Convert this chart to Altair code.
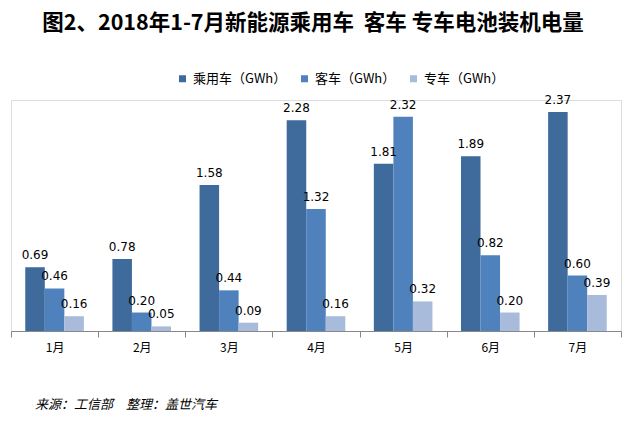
import altair as alt
import pandas as pd

months = ["1月", "2月", "3月", "4月", "5月", "6月", "7月"]
series = ["乘用车（GWh）", "客车（GWh）", "专车（GWh）"]
passenger = [0.69, 0.78, 1.58, 2.28, 1.81, 1.89, 2.37]
bus = [0.46, 0.20, 0.44, 1.32, 2.32, 0.82, 0.60]
special = [0.16, 0.05, 0.09, 0.16, 0.32, 0.20, 0.39]
colors = ["#3E6A9C", "#4F81BD", "#A9BBDA"]

rows = []
for vals, s in zip([passenger, bus, special], series):
    for m, v in zip(months, vals):
        rows.append({"month": m, "series": s, "value": v})
df = pd.DataFrame(rows)

FONT = "Noto Sans CJK SC"

x = alt.X("month:N", sort=months, title=None,
          scale=alt.Scale(paddingInner=0, paddingOuter=0),
          axis=alt.Axis(labelAngle=0, tickBand="extent", tickSize=6, tickColor="#888888",
                        domainColor="#888888", labelFontSize=12, labelColor="#000000",
                        labelFont=FONT, labelPadding=5, grid=False))
xo = alt.XOffset("series:N", sort=series,
                 scale=alt.Scale(paddingInner=0, paddingOuter=0.73))
y = alt.Y("value:Q", scale=alt.Scale(domain=[0, 2.5]), axis=None)
color = alt.Color("series:N", sort=series,
                  scale=alt.Scale(domain=series, range=colors),
                  legend=alt.Legend(title=None, orient="none", legendX=165, legendY=-28,
                                    direction="horizontal", symbolType="square",
                                    symbolSize=49, symbolStrokeWidth=0, labelFontSize=13,
                                    labelFont=FONT, labelOffset=4, columnPadding=11,
                                    gridAlign="each", labelColor="#000000"))

bars = alt.Chart(df).mark_bar().encode(x=x, xOffset=xo, y=y, color=color)
labels = alt.Chart(df).mark_text(baseline="bottom", dy=-5, fontSize=12, font="DejaVu Sans",
                                 color="#000000").encode(
    x=x, xOffset=xo, y=y, text=alt.Text("value:Q", format=".2f"))

src_df = pd.DataFrame({"t": ["来源：工信部　整理：盖世汽车"]})
src = alt.Chart(src_df).mark_text(fontSize=13, fontStyle="italic", font=FONT,
                                  color="#000000", align="left", baseline="middle").encode(
    x=alt.value(24), y=alt.value(305), text="t:N")

chart = alt.layer(bars, labels, src).properties(
    width=610, height=231,
    title=alt.TitleParams("图2、2018年1-7月新能源乘用车\u00a0\u00a0客车 专车电池装机电量",
                          anchor="middle", frame="group", orient="top", offset=38,
                          fontSize=21.5, fontWeight="bold", font=FONT, color="#000000",
                          dx=-3),
    autosize=alt.AutoSizeParams(type="none"),
    padding={"left": 3, "top": 92, "right": 3, "bottom": 82},
).configure_view(stroke=None).configure(background="#ffffff")

chart.save("out.html", embed_options={"renderer": "svg", "actions": False})
